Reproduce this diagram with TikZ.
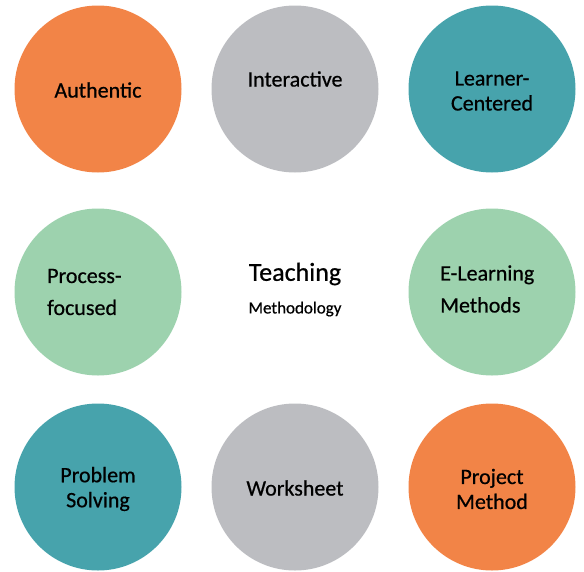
\documentclass[tikz,border=0pt]{standalone}
\usepackage{fontspec}
\setmainfont{Carlito}
\newfontfamily\medfont[FakeBold=0.6]{Carlito}
\usepackage{tikz}

\definecolor{orangeblob}{HTML}{F28447}
\definecolor{grayblob}{HTML}{BCBDC1}
\definecolor{tealblob}{HTML}{47A3AC}
\definecolor{greenblob}{HTML}{9DD2AE}

\tikzset{
  blob/.style={circle,minimum size=167pt,inner sep=0pt,fill=#1},
  lbl/.style={font=\medfont\fontsize{22}{25}\selectfont,align=center,inner sep=0pt},
  lblleft/.style={font=\medfont\fontsize{22}{32}\selectfont,align=left,inner sep=0pt,anchor=west}
}

\begin{document}
\begin{tikzpicture}[x=1pt,y=-1pt]
          \useasboundingbox (0,0) rectangle (584,571);
          % the eight circles
          \node[blob=orangeblob] (authentic) at (98,89) {};
          \node[blob=grayblob] (interactive) at (295,89) {};
          \node[blob=tealblob] (learner) at (492,89) {};
          \node[blob=greenblob] (process) at (98,292) {};
          \node[blob=greenblob] (elearning) at (492,292) {};
          \node[blob=tealblob] (problem) at (98,487) {};
          \node[blob=grayblob] (worksheet) at (295,487) {};
          \node[blob=orangeblob] (project) at (492,487) {};
          % their texts
          \node[lbl] (authentictext) at (98,90) {Authentic};
          \node[lbl] (interactivetext) at (295,79) {Interactive};
          \node[lbl] (learnertext) at (492,91) {Learner-\\Centered};
          \node[lblleft] (processtext) at (47,292) {Process-\\focused};
          \node[lblleft] (elearningtext) at (440,289) {E-Learning\\Methods};
          \node[lbl] (problemtext) at (98,489) {Problem\\Solving};
          \node[lbl] (worksheettext) at (295,488) {Worksheet};
          \node[lbl] (projecttext) at (492,489) {Project\\Method};
          % centre
          \node[lbl,font=\medfont\fontsize{26}{30}\selectfont] (teaching) at (295,274) {Teaching};
          \node[lbl,font=\medfont\fontsize{17}{20}\selectfont] (method) at (295,309) {Methodology};
        \end{tikzpicture}
\end{document}
